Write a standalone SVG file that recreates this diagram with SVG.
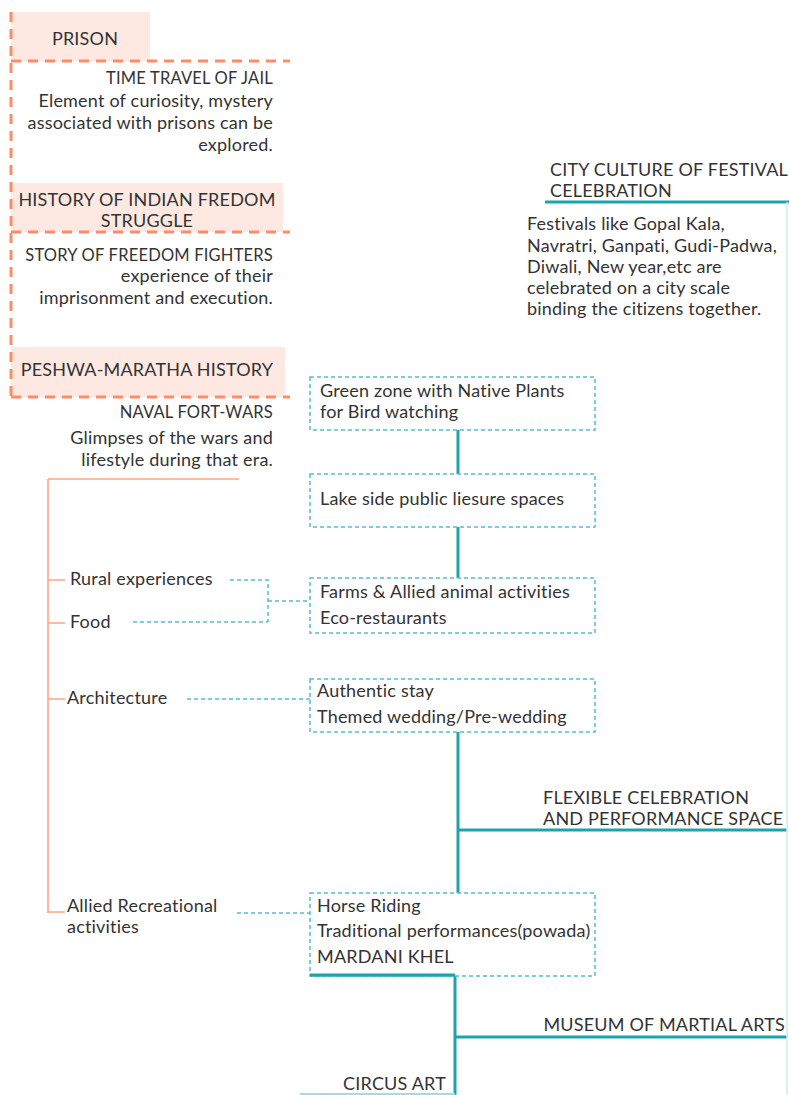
<svg xmlns="http://www.w3.org/2000/svg" width="789" height="1095" viewBox="0 0 789 1095">
<style>
text{font-family:Lato,"Liberation Sans",sans-serif;fill:#333;font-size:18px;letter-spacing:0.2px}
.r{text-anchor:end}
.c{text-anchor:middle}
.sm{font-size:16.5px}
.pink{fill:#fee9e2;stroke:none}
.od{fill:none;stroke:#ff8c66;stroke-width:3;stroke-dasharray:10 7}
.os{fill:none;stroke:#ffa585;stroke-width:1.6}
.tb{fill:#fff;stroke:#53c0c8;stroke-width:1.5;stroke-dasharray:4 3}
.td{fill:none;stroke:#53c0c8;stroke-width:1.5;stroke-dasharray:4 3}
.ts{fill:none;stroke:#1ea3ad;stroke-width:3}
.tf{fill:none;stroke:#cdeef0;stroke-width:1.5}
</style>
<rect width="789" height="1095" fill="#fff"/>
<g id="left-panel">
<rect class="pink" x="11" y="12" width="139" height="49"/>
<rect class="pink" x="11" y="183" width="272" height="49"/>
<rect class="pink" x="11" y="347" width="274" height="50"/>
<path class="od" d="M11,12 V397"/>
<path class="od" d="M11,61 H290 M11,232 H290 M11,397 H290"/>
</g>
<g id="node-prison">
<text class="c" x="85" y="45">PRISON</text>
<text class="r sm" x="273" y="84">TIME TRAVEL OF JAIL</text>
<text class="r" x="273" y="107">Element of curiosity, mystery</text>
<text class="r" x="273" y="129">associated with prisons can be</text>
<text class="r" x="273" y="151">explored.</text>
</g>
<g id="node-freedom">
<text class="c" x="147" y="206">HISTORY OF INDIAN FREDOM</text>
<text class="c" x="147" y="227">STRUGGLE</text>
<text class="r sm" x="273" y="261">STORY OF FREEDOM FIGHTERS</text>
<text class="r" x="273" y="282">experience of their</text>
<text class="r" x="273" y="304">imprisonment and execution.</text>
</g>
<g id="node-peshwa">
<text class="c" x="147" y="376">PESHWA-MARATHA HISTORY</text>
<text class="r sm" x="273" y="418">NAVAL FORT-WARS</text>
<text class="r" x="273" y="444">Glimpses of the wars and</text>
<text class="r" x="273" y="466">lifestyle during that era.</text>
</g>
<g id="connectors">
<path class="os" d="M48,479 V913 M48,479 H239 M48,580 H65 M48,623 H65 M48,699 H65 M48,912 H65"/>
<path class="td" d="M230,580 H268 V622 M133,622 H268 M268,601 H310 M187,699 H310 M237,913 H310"/>
<path class="ts" d="M458,430 V474 M458,527 V578 M458,732 V893 M458,830 H787 M310,975 H455 V1095 M455,1037 H787 M545,202 H789"/>
<path class="tf" d="M787,202 V1095"/>
<path fill="none" stroke="#9fdde2" stroke-width="2" d="M300,1094 H455"/>
</g>
<g id="node-rural"><text x="70" y="585">Rural experiences</text></g>
<g id="node-food"><text x="70" y="628">Food</text></g>
<g id="node-architecture"><text x="67" y="704">Architecture</text></g>
<g id="node-allied"><text x="67" y="912">Allied Recreational</text><text x="67" y="933">activities</text></g>
<g id="node-green">
<rect class="tb" x="310" y="377" width="285" height="53"/>
<text x="320" y="397">Green zone with Native Plants</text>
<text x="320" y="418">for Bird watching</text>
</g>
<g id="node-lake">
<rect class="tb" x="310" y="474" width="285" height="53"/>
<text x="320" y="505">Lake side public liesure spaces</text>
</g>
<g id="node-farms">
<rect class="tb" x="310" y="578" width="285" height="55"/>
<text x="320" y="598">Farms &amp; Allied animal activities</text>
<text x="320" y="624">Eco-restaurants</text>
</g>
<g id="node-stay">
<rect class="tb" x="310" y="679" width="285" height="53"/>
<text x="317" y="697">Authentic stay</text>
<text x="317" y="723">Themed wedding/Pre-wedding</text>
</g>
<g id="node-horse">
<rect class="tb" x="310" y="893" width="285" height="83"/>
<text x="317" y="912">Horse Riding</text>
<text x="317" y="937">Traditional performances(powada)</text>
<text x="317" y="963">MARDANI KHEL</text>
<path class="ts" d="M310,975 H455"/>
</g>
<g id="node-city">
<text x="550" y="176">CITY CULTURE OF FESTIVAL</text>
<text x="550" y="197">CELEBRATION</text>
<text x="527" y="230">Festivals like Gopal Kala,</text>
<text x="527" y="252">Navratri, Ganpati, Gudi-Padwa,</text>
<text x="527" y="273">Diwali, New year,etc are</text>
<text x="527" y="294">celebrated on a city scale</text>
<text x="527" y="315">binding the citizens together.</text>
</g>
<g id="node-flexible">
<text x="543" y="804">FLEXIBLE CELEBRATION</text>
<text x="543" y="825">AND PERFORMANCE SPACE</text>
</g>
<g id="node-museum"><text class="r" x="785" y="1031">MUSEUM OF MARTIAL ARTS</text></g>
<g id="node-circus"><text class="r" x="446" y="1090">CIRCUS ART</text></g>
</svg>
